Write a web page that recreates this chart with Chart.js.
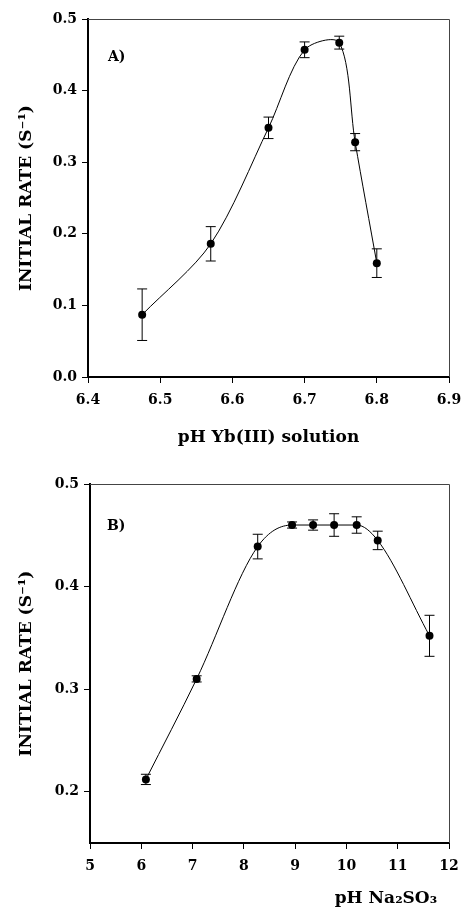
<!DOCTYPE html>
<html>
<head>
<meta charset="utf-8">
<script src="https://cdn.jsdelivr.net/npm/chart.js@4.4.1/dist/chart.umd.min.js"></script>
<style>
  html, body { margin: 0; padding: 0; background: #fff; }
  canvas { display: block; }
</style>
</head>
<body>
<canvas id="chart-yb" width="461" height="450"></canvas>
<canvas id="chart-na" width="461" height="459"></canvas>
<script>
// ---- panel A: pH of Yb(III) solution ----
const phYb   = [6.475, 6.57, 6.65, 6.70, 6.748, 6.77, 6.80];
const rateYb = [0.087, 0.186, 0.348, 0.457, 0.467, 0.328, 0.159];
const errYb  = [0.036, 0.024, 0.015, 0.011, 0.009, 0.012, 0.020];
const xTicksA = [6.4, 6.5, 6.6, 6.7, 6.8, 6.9];
const yTicksA = [0.0, 0.1, 0.2, 0.3, 0.4, 0.5];

// ---- panel B: pH of Na2SO3 ----
const phNa   = [6.09, 7.08, 8.27, 8.94, 9.35, 9.76, 10.2, 10.61, 11.62];
const rateNa = [0.212, 0.310, 0.439, 0.460, 0.460, 0.460, 0.460, 0.445, 0.352];
const errNa  = [0.005, 0.003, 0.012, 0.003, 0.005, 0.011, 0.008, 0.009, 0.020];
const xTicksB = [5, 6, 7, 8, 9, 10, 11, 12];
const yTicksB = [0.2, 0.3, 0.4, 0.5];

const FONT = "'DejaVu Serif', serif";

// error bars drawn under the points
const errorBars = {
  id: 'errorBars',
  beforeDatasetsDraw(chart) {
    const ds = chart.data.datasets[0];
    if (!ds.errors) return;
    const { ctx, scales: { x, y } } = chart;
    ctx.save();
    ctx.strokeStyle = '#000';
    ctx.lineWidth = 1;
    ds.data.forEach((p, i) => {
      const px = x.getPixelForValue(p.x);
      const top = y.getPixelForValue(p.y + ds.errors[i]);
      const bot = y.getPixelForValue(p.y - ds.errors[i]);
      ctx.beginPath();
      ctx.moveTo(px, top); ctx.lineTo(px, bot);
      ctx.moveTo(px - 5, top); ctx.lineTo(px + 5, top);
      ctx.moveTo(px - 5, bot); ctx.lineTo(px + 5, bot);
      ctx.stroke();
    });
    ctx.restore();
  }
};

// top + right frame lines and the panel letter
const frame = {
  id: 'frame',
  afterDraw(chart, args, opts) {
    const { ctx, chartArea: a } = chart;
    ctx.save();
    ctx.strokeStyle = '#444';
    ctx.lineWidth = 1;
    ctx.beginPath();
    ctx.moveTo(a.left, a.top + 0.5); ctx.lineTo(a.right + 0.5, a.top + 0.5);
    ctx.lineTo(a.right + 0.5, a.bottom);
    ctx.stroke();
    ctx.fillStyle = '#000';
    ctx.font = 'bold 14px ' + FONT;
    ctx.textBaseline = 'middle';
    ctx.fillText(opts.label, a.left + opts.dx, a.top + opts.dy);
    ctx.restore();
  }
};

function makeChart(id, xs, ys, errs, cfg) {
  const pts = xs.map((v, i) => ({ x: v, y: ys[i] }));
  return new Chart(document.getElementById(id), {
    type: 'scatter',
    data: {
      datasets: [{
        data: pts,
        errors: errs,
        showLine: true,
        borderColor: '#000',
        borderWidth: 1,
        tension: cfg.tension,
        cubicInterpolationMode: cfg.mode,
        pointRadius: 4,
        pointBackgroundColor: '#000',
        pointBorderColor: '#000',
        pointBorderWidth: 0
      }]
    },
    plugins: [errorBars, frame],
    options: {
      responsive: false,
      animation: false,
      layout: { padding: { top: cfg.top, right: 12, left: 0, bottom: 0 } },
      plugins: {
        legend: { display: false },
        tooltip: { enabled: false },
        frame: { label: cfg.label, dx: cfg.labelDx, dy: cfg.labelDy }
      },
      scales: {
        x: {
          type: 'linear',
          min: cfg.xTicks[0],
          max: cfg.xTicks[cfg.xTicks.length - 1],
          afterBuildTicks: s => { s.ticks = cfg.xTicks.map(v => ({ value: v })); },
          afterFit: s => { s.height = cfg.xHeight; s.paddingLeft = 0; s.paddingRight = 0; },
          grid: { drawOnChartArea: false, tickLength: 6, color: '#000' },
          border: { color: '#000', width: 2 },
          ticks: {
            color: '#000', padding: 9, maxRotation: 0,
            font: { family: FONT, size: 14, weight: 'bold' },
            callback: cfg.xFmt
          },
          title: {
            display: true, text: cfg.xTitle, color: '#000', align: cfg.xAlign,
            font: { family: FONT, size: 17, weight: 'bold' },
            padding: { top: 0, bottom: cfg.xTitlePad }
          }
        },
        y: {
          min: cfg.yMin,
          max: 0.5,
          afterBuildTicks: s => { s.ticks = cfg.yTicks.map(v => ({ value: v })); },
          afterFit: s => { s.width = cfg.yWidth; s.paddingTop = 0; s.paddingBottom = 0; },
          grid: { drawOnChartArea: false, tickLength: 6, color: '#000' },
          border: { color: '#000', width: 2 },
          ticks: {
            color: '#000', padding: 5,
            font: { family: FONT, size: 14, weight: 'bold' },
            callback: v => v.toFixed(1)
          },
          title: {
            display: true, text: 'INITIAL RATE (S\u207B\u00B9)', color: '#000',
            font: { family: FONT, size: 17, weight: 'bold' },
            padding: { top: 16, bottom: 0 }
          }
        }
      }
    }
  });
}

makeChart('chart-yb', phYb, rateYb, errYb, {
  tension: 0.3, mode: 'default',
  top: 19, yMin: 0, yWidth: 88, xHeight: 73,
  xTicks: xTicksA, yTicks: yTicksA, xFmt: v => v.toFixed(1),
  xTitle: 'pH Yb(III) solution', xAlign: 'center', xTitlePad: 2,
  label: 'A)', labelDx: 20, labelDy: 38
});

makeChart('chart-na', phNa, rateNa, errNa, {
  tension: 0.4, mode: 'monotone',
  top: 34, yMin: 0.15, yWidth: 90, xHeight: 66,
  xTicks: xTicksB, yTicks: yTicksB, xFmt: v => String(v),
  xTitle: 'pH Na\u2082SO\u2083\u2002\u2009', xAlign: 'end', xTitlePad: 0,
  label: 'B)', labelDx: 17, labelDy: 42
});
</script>
</body>
</html>
